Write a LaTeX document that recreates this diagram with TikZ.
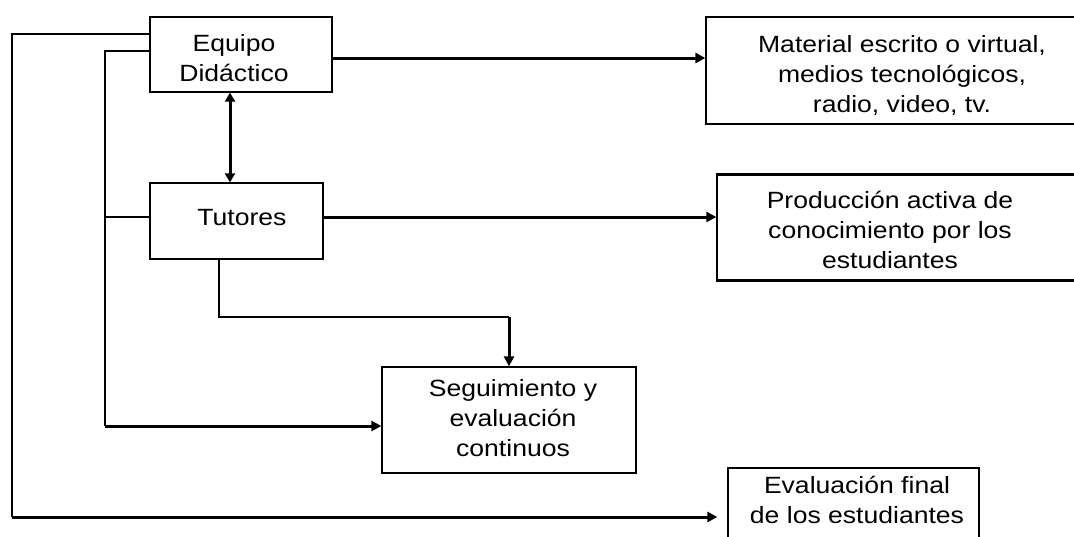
\documentclass[tikz,border=0pt]{standalone}
\usepackage{fontspec}
\setmainfont[FakeStretch=1.13]{Liberation Sans}
\usetikzlibrary{arrows.meta,fit}
\begin{document}
\begin{tikzpicture}[x=1pt,y=-1pt,
  box/.style={draw, line width=1.3pt, inner sep=0pt},
  txt/.style={align=center, font=\fontsize{23.5}{30}\selectfont, inner sep=0pt, anchor=base},
  thinline/.style={line width=1.2pt},
  thickarrow/.style={line width=3pt, -{Triangle[length=10pt,width=10pt]}},
  botharrow/.style={line width=3pt, {Triangle[length=9pt,width=10pt]}-{Triangle[length=9pt,width=10pt]}},
]
\useasboundingbox (0,0) rectangle (1074,536);
\clip (0,0) rectangle (1074,536);
\fill[white] (0,0) rectangle (1074,536);

% boxes
\node[box, fit={(150,17) (332,92)}] (eq) {};
\node[box, fit={(150,183) (323,259)}] (tu) {};
\node[box, fit={(706,17) (1090,124)}] (mat) {};
\node[box, fit={(717,174) (1090,281)}] (pr) {};
\node[box, fit={(382,367) (636,473)}] (sg) {};
\node[box, fit={(728,468) (979,560)}] (ev) {};
\draw[thinline] ([yshift=-2.4pt]pr.north west) -- ([yshift=-2.4pt]pr.north east);
\draw[thinline] ([yshift=2.4pt]pr.south west) -- ([yshift=2.4pt]pr.south east);

% texts (anchored at the baseline of the last line)
\node[txt] (eqt) at (234,81) {Equipo\\Didáctico};
\node[txt] (tut) at (242,225) {Tutores};
\node[txt] (matt) at (902,112) {Material escrito o virtual,\\medios tecnológicos,\\radio, video, tv.};
\node[txt] (prt) at (890,268) {Producción activa de\\conocimiento por los\\estudiantes};
\node[txt] (sgt) at (513,456) {Seguimiento y\\evaluación\\continuos};
\node[txt] (evt) at (857,523) {Evaluación final\\de los estudiantes};

% coordinates
\coordinate (oL) at (12,517);
\coordinate (iL) at (105,426);
\coordinate (bend) at (509,317);

% connectors
\draw[thinline] ([yshift=20.5pt]eq.west) -| (oL);
\draw[thickarrow, shorten >=10pt] (oL) -- (ev.west |- oL);
\draw[thinline] ([yshift=3.5pt]eq.west) -| (iL);
\draw[thickarrow] (iL) -- (sg.west |- iL);
\draw[thinline] ([yshift=4pt]tu.west) coordinate (t1) -- (t1 -| iL);
\draw[thickarrow] ([yshift=-3.5pt]eq.east) coordinate (e1) -- (e1 -| mat.west);
\draw[thickarrow] ([yshift=4pt]tu.east) coordinate (t2) -- (t2 -| pr.west);
\draw[botharrow] ([xshift=-11pt]eq.south) coordinate (d1) -- (d1 |- tu.north);
\draw[thinline] ([xshift=-17.5pt]tu.south) |- (bend);
\draw[thickarrow] (bend) -- (sg.north);
\end{tikzpicture}
\end{document}
